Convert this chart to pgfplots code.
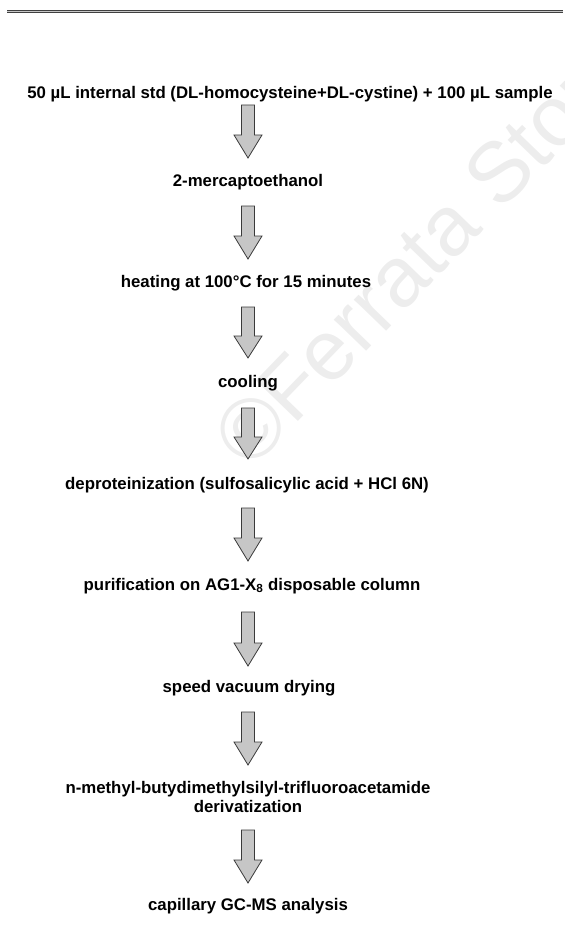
\documentclass[border=0pt]{standalone}
\usepackage{pgfplots}
\pgfplotsset{compat=1.18}
\usepackage{fontspec}
\setmainfont{Liberation Sans}
\definecolor{arrfill}{HTML}{C6C6C6}
\definecolor{arrline}{HTML}{3A3A3A}
\definecolor{wmark}{HTML}{EDEDED}
\begin{document}
\begin{tikzpicture}[
  lab/.style={font=\fontsize{16.8bp}{19bp}\selectfont\bfseries, inner sep=0pt, text=black},
  arr/.style={fill=arrfill, draw=arrline, line width=0.8bp, line join=miter},
]
\begin{axis}[
  width=563bp, height=937bp, scale only axis,
  xmin=0, xmax=563, ymin=0, ymax=937, y dir=reverse,
  axis lines=none, ticks=none, clip=false,
]
% frame of the page (invisible)
\addplot[draw=none] coordinates {(0,0) (563,937)};
% watermark
\node[overlay, anchor=base west, rotate=46, text=wmark, inner sep=0pt,
      font=\fontsize{85bp}{90bp}\selectfont] at (axis cs:250,472) {\textcopyright Ferrata Storti};
% top double rule
\addplot[gray!45, line width=3.2bp] coordinates {(7,11.4) (563,11.4)};
\addplot[black!75, line width=1bp] coordinates {(7,10.3) (563,10.3)};
\addplot[black!75, line width=1bp] coordinates {(7,12.5) (563,12.5)};
% arrows: top T, head base T+30, tip T+53
\addplot[arr] coordinates {(241.5,105) (254.5,105) (254.5,135) (262,135) (248,158) (234,135) (241.5,135)} -- cycle;
\addplot[arr] coordinates {(241.5,206) (254.5,206) (254.5,236) (262,236) (248,259) (234,236) (241.5,236)} -- cycle;
\addplot[arr] coordinates {(241.5,307) (254.5,307) (254.5,336) (262,336) (248,358) (234,336) (241.5,336)} -- cycle;
\addplot[arr] coordinates {(241.5,408) (254.5,408) (254.5,437) (262,437) (248,459) (234,437) (241.5,437)} -- cycle;
\addplot[arr] coordinates {(241.5,508) (254.5,508) (254.5,538) (262,538) (248,561) (234,538) (241.5,538)} -- cycle;
\addplot[arr] coordinates {(241.5,612) (254.5,612) (254.5,643) (262,643) (248,666) (234,643) (241.5,643)} -- cycle;
\addplot[arr] coordinates {(241.5,712) (254.5,712) (254.5,742) (262,742) (248,765) (234,742) (241.5,742)} -- cycle;
\addplot[arr] coordinates {(241.5,830) (254.5,830) (254.5,860) (262,860) (248,883) (234,860) (241.5,860)} -- cycle;
% step labels
\node[lab] at (axis cs:290,94) {50 µL internal std (DL-homocysteine+DL-cystine) + 100 µL sample};
\node[lab] at (axis cs:248,182) {2-mercaptoethanol};
\node[lab] at (axis cs:246,283) {heating at 100°C for 15 minutes};
\node[lab] at (axis cs:248,383) {cooling};
\node[lab] at (axis cs:247,485) {deproteinization (sulfosalicylic acid + HCl 6N)};
\node[lab] at (axis cs:252,586) {purification on AG1-X\textsubscript{8} disposable column};
\node[lab] at (axis cs:249,688) {speed vacuum drying};
\node[lab, align=center] at (axis cs:248,797) {n-methyl-butydimethylsilyl-trifluoroacetamide\\derivatization};
\node[lab] at (axis cs:248,906) {capillary GC-MS analysis};
\end{axis}
\end{tikzpicture}
\end{document}
